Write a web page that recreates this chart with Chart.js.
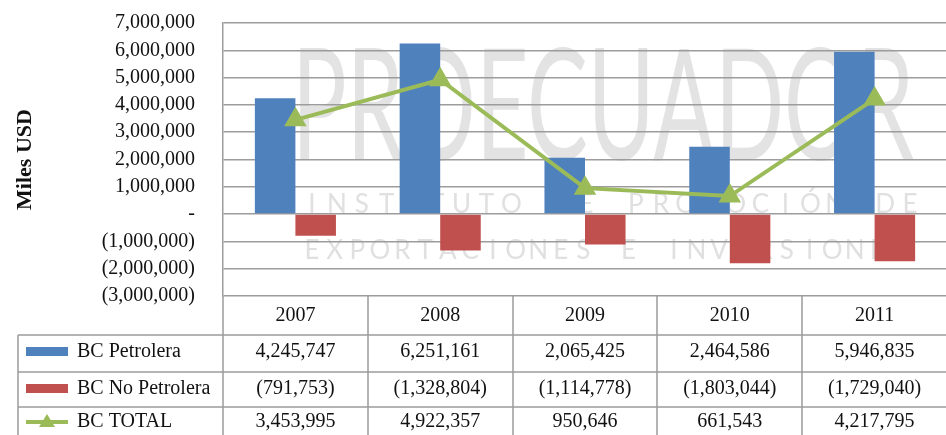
<!DOCTYPE html>
<html>
<head>
<meta charset="utf-8">
<script src="https://cdn.jsdelivr.net/npm/chart.js@4"></script>
<style>
  html, body { margin: 0; padding: 0; background: #fff; overflow: hidden; }
  #wrap { width: 960px; height: 435px; }
</style>
</head>
<body>
<div id="wrap"><canvas id="myChart" width="960" height="435"></canvas></div>
<script>
const years = ["2007", "2008", "2009", "2010", "2011"];
const petrolera = [4245747, 6251161, 2065425, 2464586, 5946835];
const noPetrolera = [-791753, -1328804, -1114778, -1803044, -1729040];
const total = [3453995, 4922357, 950646, 661543, 4217795];

const serif = "'Liberation Serif', 'DejaVu Serif', serif";
const gridColor = "#9c9c9c";

function fmt(v) {
  if (v === 0) return "-";
  const s = Math.abs(v).toLocaleString("en-US");
  return v < 0 ? "(" + s + ")" : s;
}

// faint PROECUADOR watermark behind the grid
const watermark = {
  id: "watermark",
  beforeDraw(chart) {
    const ctx = chart.ctx;
    ctx.save();
    ctx.fillStyle = "#e3e3e3";
    ctx.font = "400 150px Lato, 'DejaVu Sans', sans-serif";
    ctx.textBaseline = "alphabetic";
    const word = "PROECUADOR";
    const w = ctx.measureText(word).width;
    ctx.translate(292, 160);
    ctx.scale(622 / w, 1.03);
    ctx.fillText(word, 0, 0);
    ctx.restore();

    ctx.save();
    ctx.fillStyle = "#e0e0e0";
    ctx.font = "400 26px Lato, 'DejaVu Sans', sans-serif";
    ctx.textAlign = "center";
    ctx.textBaseline = "middle";
    const spread = (txt, x0, x1, y) => {
      const n = txt.length;
      for (let i = 0; i < n; i++) {
        ctx.fillText(txt[i], x0 + (i * (x1 - x0)) / (n - 1), y);
      }
    };
    spread("INSTITUTO DE PROMOCIÓN DE", 312, 910, 205);
    spread("EXPORTACIONES E INVERSIONES", 312, 900, 251);
    ctx.restore();
  },
};

// data table below the plot, aligned to the x scale
const dataTable = {
  id: "dataTable",
  afterDraw(chart) {
    const ctx = chart.ctx;
    const x = chart.scales.x;
    const area = chart.chartArea;
    const half = (x.getPixelForValue(1) - x.getPixelForValue(0)) / 2;
    const top = area.bottom;
    const rowTops = [335, 372, 407];
    const textY = [352, 389, 422];
    const leftX = 18;
    const rightX = chart.width;
    const bottom = chart.height;

    ctx.save();
    ctx.strokeStyle = gridColor;
    ctx.lineWidth = 1.5;
    ctx.beginPath();
    for (let i = 0; i <= years.length; i++) {
      const px = Math.round(x.getPixelForValue(0) - half + i * 2 * half);
      ctx.moveTo(px, top);
      ctx.lineTo(px, bottom);
    }
    ctx.moveTo(leftX, rowTops[0]);
    ctx.lineTo(leftX, bottom);
    rowTops.forEach((py) => {
      ctx.moveTo(leftX, py);
      ctx.lineTo(rightX, py);
    });
    ctx.stroke();

    ctx.fillStyle = "#111";
    ctx.font = "20px " + serif;
    ctx.textAlign = "center";
    ctx.textBaseline = "middle";
    years.forEach((y, i) => {
      ctx.fillText(y, x.getPixelForValue(i), 316);
    });

    const rows = [
      { ds: chart.data.datasets[1], vals: petrolera },
      { ds: chart.data.datasets[2], vals: noPetrolera },
      { ds: chart.data.datasets[0], vals: total },
    ];
    rows.forEach((row, r) => {
      const cy = textY[r];
      ctx.textAlign = "center";
      ctx.fillStyle = "#111";
      row.vals.forEach((v, i) => {
        ctx.fillText(fmt(v), x.getPixelForValue(i), cy);
      });
      // legend key
      if (row.ds.type === "line") {
        ctx.strokeStyle = row.ds.borderColor;
        ctx.lineWidth = 4;
        ctx.beginPath();
        ctx.moveTo(26, cy);
        ctx.lineTo(68, cy);
        ctx.stroke();
        ctx.fillStyle = row.ds.borderColor;
        ctx.beginPath();
        ctx.moveTo(47, cy - 8);
        ctx.lineTo(55, cy + 5);
        ctx.lineTo(39, cy + 5);
        ctx.closePath();
        ctx.fill();
      } else {
        ctx.fillStyle = row.ds.backgroundColor;
        ctx.fillRect(26, cy - 5, 42, 9);
      }
      ctx.fillStyle = "#111";
      ctx.textAlign = "left";
      ctx.fillText(row.ds.label, 77, cy);
    });
    ctx.restore();
  },
};

new Chart("myChart", {
  data: {
    labels: years,
    datasets: [
      {
        type: "line",
        label: "BC TOTAL",
        data: total,
        borderColor: "#9bbb59",
        backgroundColor: "#9bbb59",
        borderWidth: 4,
        pointStyle: "triangle",
        pointRadius: 9,
        pointHoverRadius: 9,
        tension: 0,
        order: 0,
      },
      {
        type: "bar",
        label: "BC Petrolera",
        data: petrolera,
        backgroundColor: "#4f81bd",
        categoryPercentage: 0.56,
        barPercentage: 1,
        order: 1,
      },
      {
        type: "bar",
        label: "BC No Petrolera",
        data: noPetrolera,
        backgroundColor: "#c0504d",
        categoryPercentage: 0.56,
        barPercentage: 1,
        order: 1,
      },
    ],
  },
  options: {
    responsive: false,
    animation: false,
    layout: { padding: { top: 23, bottom: 139, right: 2, left: 0 } },
    plugins: {
      legend: { display: false },
      tooltip: { enabled: false },
    },
    scales: {
      x: {
        display: false,
        offset: true,
      },
      y: {
        min: -3000000,
        max: 7000000,
        afterFit: (s) => { s.width = 223; },
        ticks: {
          stepSize: 1000000,
          padding: 0,
          color: "#111",
          font: { family: serif, size: 20 },
          callback: (v) => fmt(v),
        },
        grid: {
          color: gridColor,
          lineWidth: 1.5,
          drawTicks: true,
          tickLength: 28,
          tickColor: "rgba(0,0,0,0)",
        },
        border: { display: true, color: gridColor, width: 1.5 },
        title: {
          display: true,
          text: "Miles USD",
          color: "#111",
          font: { family: serif, size: 22, weight: "bold" },
          padding: { top: 12, bottom: 0 },
        },
      },
    },
  },
  plugins: [watermark, dataTable],
});
</script>
</body>
</html>
